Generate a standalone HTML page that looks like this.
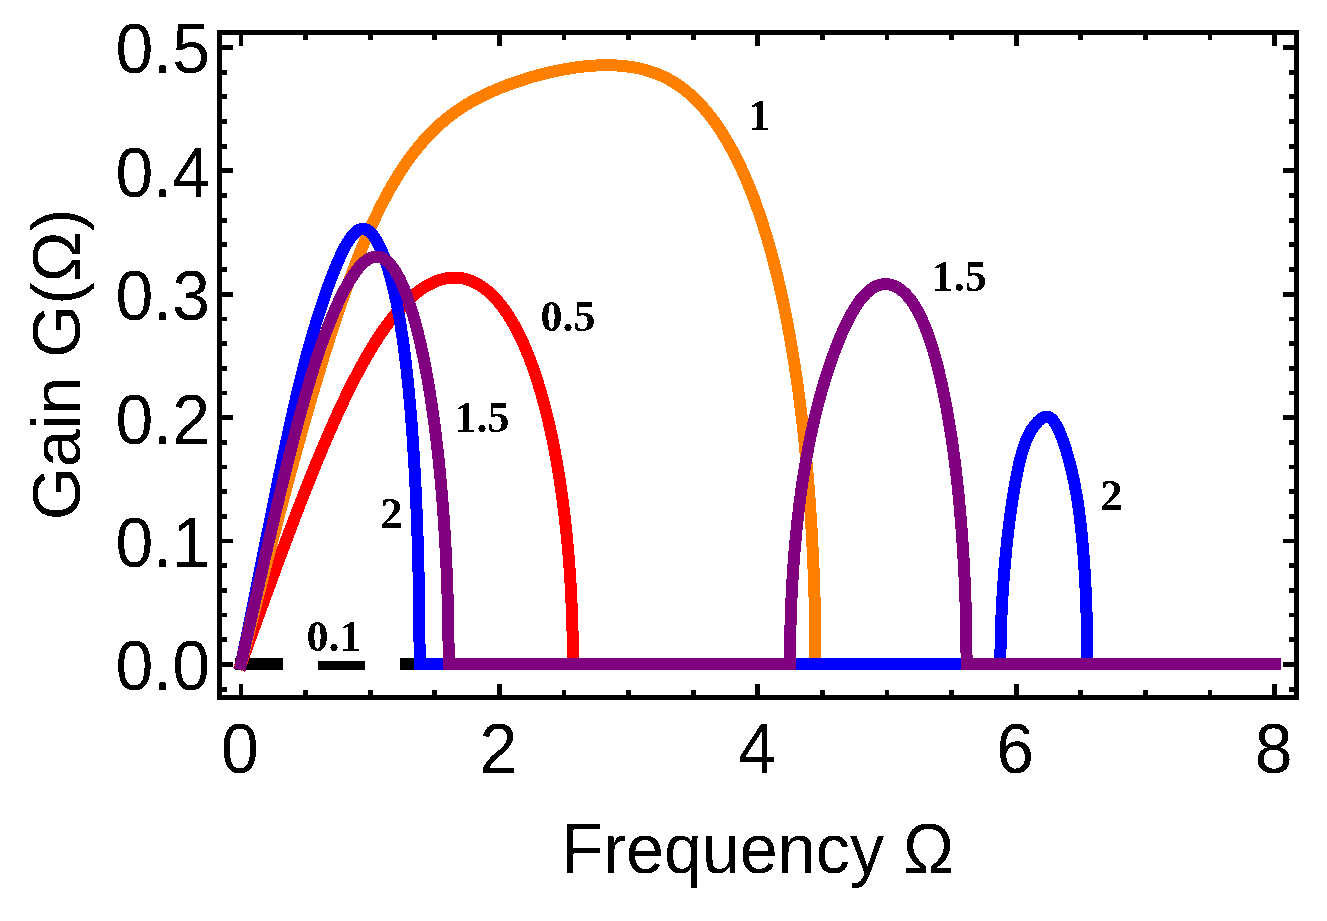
<!DOCTYPE html>
<html><head><meta charset="utf-8"><title>Gain vs Frequency</title>
<style>html,body{margin:0;padding:0;background:#fff;}body{width:1327px;height:921px;overflow:hidden;}svg{display:block;}</style></head><body>
<svg width="1327" height="921" viewBox="0 0 1327 921" shape-rendering="crispEdges">
<rect x="0" y="0" width="1327" height="921" fill="#fff"/>
<rect x="219.5" y="32.2" width="1077.0" height="665.3" fill="none" stroke="#000" stroke-width="4.8"/>
<path d="M241.0 697.5V684.2M241.0 32.2V45.5M305.6 697.5V689.7M305.6 32.2V40.0M370.2 697.5V689.7M370.2 32.2V40.0M434.8 697.5V689.7M434.8 32.2V40.0M499.4 697.5V684.2M499.4 32.2V45.5M564.0 697.5V689.7M564.0 32.2V40.0M628.6 697.5V689.7M628.6 32.2V40.0M693.2 697.5V689.7M693.2 32.2V40.0M757.8 697.5V684.2M757.8 32.2V45.5M822.4 697.5V689.7M822.4 32.2V40.0M887.0 697.5V689.7M887.0 32.2V40.0M951.6 697.5V689.7M951.6 32.2V40.0M1016.2 697.5V684.2M1016.2 32.2V45.5M1080.8 697.5V689.7M1080.8 32.2V40.0M1145.4 697.5V689.7M1145.4 32.2V40.0M1210.0 697.5V689.7M1210.0 32.2V40.0M1274.6 697.5V684.2M1274.6 32.2V45.5M219.5 689.1H227.3M1296.5 689.1H1288.7M219.5 664.4H232.8M1296.5 664.4H1283.2M219.5 639.7H227.3M1296.5 639.7H1288.7M219.5 615.0H227.3M1296.5 615.0H1288.7M219.5 590.4H227.3M1296.5 590.4H1288.7M219.5 565.7H227.3M1296.5 565.7H1288.7M219.5 541.0H232.8M1296.5 541.0H1283.2M219.5 516.3H227.3M1296.5 516.3H1288.7M219.5 491.6H227.3M1296.5 491.6H1288.7M219.5 467.0H227.3M1296.5 467.0H1288.7M219.5 442.3H227.3M1296.5 442.3H1288.7M219.5 417.6H232.8M1296.5 417.6H1283.2M219.5 392.9H227.3M1296.5 392.9H1288.7M219.5 368.2H227.3M1296.5 368.2H1288.7M219.5 343.6H227.3M1296.5 343.6H1288.7M219.5 318.9H227.3M1296.5 318.9H1288.7M219.5 294.2H232.8M1296.5 294.2H1283.2M219.5 269.5H227.3M1296.5 269.5H1288.7M219.5 244.8H227.3M1296.5 244.8H1288.7M219.5 220.2H227.3M1296.5 220.2H1288.7M219.5 195.5H227.3M1296.5 195.5H1288.7M219.5 170.8H232.8M1296.5 170.8H1283.2M219.5 146.1H227.3M1296.5 146.1H1288.7M219.5 121.4H227.3M1296.5 121.4H1288.7M219.5 96.8H227.3M1296.5 96.8H1288.7M219.5 72.1H227.3M1296.5 72.1H1288.7M219.5 47.4H232.8M1296.5 47.4H1283.2" stroke="#000" stroke-width="4.8" fill="none"/>
<path d="M241.0 664.0 H1274.6" stroke="#000" stroke-width="12" fill="none" stroke-linecap="square" stroke-dasharray="35.6 46.9"/>
<path d="M241.00 664.00 L241.87 661.59 L242.74 659.18 L243.61 656.77 L244.48 654.36 L245.35 651.95 L246.22 649.54 L247.09 647.14 L247.96 644.73 L248.83 642.32 L249.70 639.92 L250.57 637.51 L251.44 635.11 L252.31 632.71 L253.18 630.31 L254.05 627.91 L254.92 625.51 L255.79 623.11 L256.66 620.71 L257.53 618.32 L258.40 615.93 L259.27 613.53 L260.14 611.14 L261.01 608.75 L261.88 606.37 L262.74 603.98 L263.61 601.60 L264.48 599.22 L265.35 596.84 L266.22 594.46 L267.08 592.09 L267.95 589.71 L268.82 587.34 L269.69 584.98 L270.55 582.61 L271.42 580.25 L272.29 577.89 L273.15 575.53 L274.02 573.18 L274.89 570.83 L275.75 568.48 L276.62 566.13 L277.48 563.79 L278.35 561.46 L279.21 559.12 L280.08 556.79 L280.94 554.46 L281.80 552.14 L282.67 549.82 L283.53 547.51 L284.39 545.20 L285.26 542.89 L286.12 540.59 L286.98 538.29 L287.84 536.00 L288.70 533.71 L289.57 531.42 L290.43 529.15 L291.29 526.87 L292.15 524.60 L293.01 522.34 L293.87 520.08 L294.73 517.83 L295.58 515.59 L296.44 513.35 L297.30 511.11 L298.16 508.88 L299.02 506.66 L299.87 504.44 L300.73 502.23 L301.58 500.03 L302.44 497.84 L303.29 495.65 L304.15 493.46 L305.00 491.29 L305.86 489.12 L306.71 486.96 L307.56 484.81 L308.42 482.66 L309.27 480.52 L310.12 478.39 L310.97 476.27 L311.82 474.15 L312.67 472.05 L313.52 469.95 L314.37 467.86 L315.22 465.78 L316.07 463.71 L316.91 461.64 L317.76 459.59 L318.61 457.54 L319.45 455.50 L320.30 453.47 L321.14 451.45 L321.99 449.44 L322.83 447.44 L323.68 445.45 L324.52 443.46 L325.36 441.49 L326.20 439.53 L327.04 437.57 L327.88 435.63 L328.72 433.69 L329.56 431.77 L330.40 429.85 L331.24 427.95 L332.08 426.06 L332.91 424.17 L333.75 422.30 L334.58 420.43 L335.42 418.58 L336.25 416.74 L337.09 414.91 L337.92 413.09 L339.58 409.48 L341.24 405.91 L342.90 402.39 L344.56 398.92 L346.21 395.49 L347.86 392.10 L349.50 388.76 L351.15 385.47 L352.79 382.23 L354.43 379.03 L356.06 375.88 L357.69 372.78 L359.32 369.73 L360.94 366.73 L362.57 363.77 L364.18 360.87 L365.80 358.02 L367.41 355.22 L369.02 352.47 L370.62 349.77 L372.22 347.12 L373.82 344.53 L375.41 341.98 L377.00 339.49 L378.59 337.05 L380.17 334.67 L381.75 332.33 L383.32 330.05 L384.89 327.81 L386.46 325.63 L388.02 323.51 L389.58 321.43 L391.14 319.40 L392.69 317.43 L394.23 315.51 L395.78 313.63 L397.31 311.81 L398.85 310.04 L400.38 308.32 L401.90 306.65 L403.42 305.03 L404.94 303.46 L406.45 301.94 L407.96 300.47 L409.46 299.05 L410.95 297.67 L413.19 295.70 L415.42 293.84 L417.64 292.09 L419.84 290.44 L422.03 288.89 L424.22 287.45 L426.39 286.12 L428.55 284.88 L430.70 283.75 L432.83 282.71 L434.96 281.78 L437.07 280.94 L439.17 280.20 L441.26 279.55 L443.34 279.00 L445.40 278.54 L447.45 278.18 L449.49 277.90 L451.51 277.72 L453.53 277.63 L456.19 277.66 L458.83 277.84 L461.44 278.17 L464.03 278.67 L466.60 279.31 L469.14 280.11 L471.03 280.81 L472.90 281.59 L474.77 282.46 L476.61 283.41 L478.44 284.44 L480.26 285.55 L482.06 286.74 L483.85 288.01 L485.62 289.36 L487.38 290.79 L489.12 292.30 L490.85 293.88 L492.56 295.54 L494.25 297.28 L495.93 299.08 L497.60 300.97 L499.25 302.92 L500.88 304.95 L502.49 307.05 L504.09 309.22 L505.68 311.47 L507.25 313.78 L508.80 316.16 L510.33 318.61 L511.85 321.12 L513.35 323.70 L514.34 325.46 L515.32 327.25 L516.30 329.07 L517.27 330.92 L518.23 332.79 L519.18 334.69 L520.13 336.62 L521.07 338.58 L522.00 340.57 L522.92 342.59 L523.83 344.63 L524.74 346.70 L525.64 348.80 L526.53 350.92 L527.41 353.07 L528.29 355.25 L529.16 357.45 L530.02 359.68 L530.87 361.93 L531.71 364.21 L532.55 366.52 L533.38 368.85 L534.20 371.20 L535.01 373.58 L535.81 375.99 L536.61 378.41 L537.40 380.87 L538.18 383.34 L538.95 385.84 L539.71 388.36 L540.46 390.91 L541.21 393.48 L541.95 396.07 L542.68 398.68 L543.40 401.31 L544.11 403.97 L544.82 406.65 L545.51 409.35 L546.20 412.07 L546.88 414.81 L547.55 417.57 L548.22 420.35 L548.87 423.15 L549.52 425.97 L550.16 428.81 L550.78 431.67 L551.41 434.55 L552.02 437.45 L552.62 440.37 L553.22 443.30 L553.80 446.26 L554.38 449.23 L554.95 452.21 L555.51 455.22 L556.06 458.24 L556.60 461.28 L557.14 464.34 L557.66 467.41 L558.18 470.49 L558.69 473.60 L559.19 476.72 L559.68 479.85 L560.16 483.00 L560.64 486.16 L561.10 489.34 L561.56 492.53 L562.00 495.73 L562.44 498.95 L562.87 502.19 L563.29 505.43 L563.70 508.69 L564.10 511.96 L564.50 515.24 L564.88 518.53 L565.26 521.84 L565.63 525.16 L565.98 528.49 L566.33 531.82 L566.67 535.17 L567.00 538.53 L567.33 541.90 L567.64 545.28 L567.94 548.67 L568.24 552.07 L568.53 555.48 L568.80 558.89 L569.07 562.32 L569.33 565.75 L569.58 569.19 L569.82 572.64 L570.05 576.09 L570.28 579.55 L570.49 583.02 L570.70 586.50 L570.89 589.98 L571.08 593.46 L571.26 596.96 L571.42 600.45 L571.58 603.96 L571.73 607.46 L571.88 610.98 L572.01 614.49 L572.13 618.01 L572.25 621.54 L572.35 625.06 L572.45 628.59 L572.53 632.12 L572.61 635.66 L572.68 639.20 L572.74 642.74 L572.79 646.28 L572.83 649.82 L572.86 653.36 L572.88 656.91 L572.90 660.45 L572.90 664.00 L1274.60 664.00" stroke="#ff0000" stroke-width="12" fill="none" stroke-linecap="square" stroke-linejoin="miter" stroke-miterlimit="10"/>
<path d="M241.00 664.00 L242.51 658.00 L244.01 652.01 L245.52 646.02 L247.03 640.04 L248.53 634.08 L250.04 628.12 L251.54 622.17 L253.05 616.23 L254.56 610.30 L256.06 604.38 L257.57 598.47 L259.07 592.57 L260.58 586.68 L262.09 580.81 L263.59 574.94 L265.10 569.09 L266.60 563.25 L268.11 557.43 L269.61 551.61 L271.12 545.82 L272.62 540.03 L274.12 534.27 L275.63 528.52 L277.13 522.78 L278.63 517.06 L280.14 511.36 L281.64 505.68 L283.14 500.02 L284.64 494.38 L286.15 488.76 L287.65 483.16 L289.15 477.59 L290.65 472.03 L292.15 466.50 L293.65 461.00 L295.15 455.52 L296.65 450.07 L298.15 444.64 L299.65 439.24 L301.15 433.88 L302.65 428.54 L304.14 423.23 L305.64 417.96 L307.14 412.71 L308.63 407.51 L310.13 402.33 L311.62 397.19 L313.12 392.09 L314.61 387.02 L316.11 381.99 L317.60 377.00 L319.09 372.04 L320.58 367.13 L322.08 362.25 L323.57 357.41 L325.06 352.62 L326.55 347.86 L328.04 343.15 L329.53 338.48 L331.01 333.85 L332.50 329.27 L333.99 324.73 L335.47 320.24 L336.96 315.79 L338.45 311.39 L339.93 307.03 L341.41 302.72 L342.90 298.46 L344.38 294.25 L345.86 290.08 L347.34 285.97 L348.82 281.90 L350.30 277.88 L351.78 273.91 L353.26 269.99 L354.73 266.13 L356.21 262.31 L357.68 258.55 L359.16 254.84 L360.63 251.18 L362.11 247.57 L363.58 244.02 L365.05 240.52 L366.52 237.07 L367.99 233.67 L369.46 230.34 L370.93 227.05 L372.39 223.82 L373.86 220.64 L375.32 217.52 L376.79 214.45 L378.25 211.43 L379.71 208.46 L381.18 205.55 L382.64 202.68 L384.10 199.87 L385.55 197.11 L387.01 194.40 L388.47 191.74 L389.92 189.13 L391.38 186.57 L392.83 184.05 L394.28 181.59 L395.74 179.17 L397.19 176.80 L398.63 174.47 L400.08 172.19 L401.53 169.96 L402.98 167.76 L404.42 165.62 L405.86 163.51 L407.31 161.45 L408.75 159.43 L410.19 157.45 L411.63 155.51 L413.06 153.61 L414.50 151.76 L415.94 149.93 L417.37 148.15 L418.80 146.40 L420.24 144.69 L421.67 143.02 L423.10 141.38 L424.52 139.78 L425.95 138.20 L427.38 136.67 L428.80 135.16 L430.22 133.68 L431.65 132.24 L433.07 130.82 L435.90 128.08 L438.73 125.45 L441.56 122.93 L444.38 120.51 L447.20 118.20 L450.01 115.98 L452.81 113.85 L455.61 111.81 L458.40 109.86 L461.18 107.99 L463.96 106.19 L466.74 104.47 L469.50 102.82 L472.27 101.23 L475.02 99.71 L477.77 98.25 L480.51 96.84 L483.25 95.48 L485.97 94.17 L488.70 92.91 L491.41 91.69 L494.12 90.51 L496.82 89.36 L499.51 88.24 L502.20 87.16 L504.88 86.11 L507.55 85.09 L510.22 84.10 L512.88 83.14 L515.53 82.21 L518.17 81.30 L520.81 80.42 L523.43 79.57 L526.05 78.75 L528.66 77.95 L531.27 77.18 L533.86 76.43 L536.45 75.71 L539.03 75.01 L541.60 74.34 L544.17 73.69 L546.72 73.06 L549.27 72.46 L551.81 71.88 L554.34 71.32 L556.86 70.79 L559.37 70.28 L561.87 69.79 L564.37 69.33 L566.85 68.89 L569.33 68.47 L571.80 68.08 L574.26 67.71 L576.71 67.37 L579.15 67.05 L581.58 66.75 L584.00 66.48 L586.41 66.23 L588.81 66.02 L591.21 65.82 L593.59 65.65 L595.96 65.51 L598.33 65.40 L600.68 65.31 L603.03 65.25 L605.36 65.22 L607.69 65.22 L610.00 65.25 L612.30 65.31 L614.60 65.39 L616.88 65.51 L619.15 65.66 L621.42 65.83 L623.67 66.04 L625.91 66.29 L628.14 66.56 L630.36 66.87 L632.57 67.21 L634.77 67.59 L636.96 68.01 L639.14 68.46 L641.30 68.95 L643.46 69.48 L645.60 70.05 L647.74 70.66 L649.86 71.31 L651.97 72.01 L654.07 72.75 L656.16 73.53 L658.23 74.35 L660.30 75.23 L662.35 76.14 L664.39 77.11 L666.43 78.12 L668.44 79.18 L670.45 80.29 L672.45 81.45 L674.43 82.65 L676.40 83.91 L678.36 85.22 L680.31 86.58 L682.24 87.99 L684.17 89.45 L686.08 90.97 L687.98 92.54 L689.86 94.16 L691.74 95.84 L693.60 97.57 L695.45 99.35 L697.28 101.18 L699.11 103.07 L700.92 105.01 L702.72 107.00 L704.51 109.04 L706.28 111.13 L708.04 113.28 L709.79 115.47 L711.52 117.72 L713.24 120.02 L714.95 122.37 L716.65 124.77 L718.33 127.22 L720.00 129.72 L721.66 132.26 L723.30 134.86 L724.93 137.51 L726.55 140.21 L728.15 142.96 L729.74 145.76 L731.32 148.60 L732.88 151.50 L734.43 154.44 L735.97 157.43 L737.49 160.48 L739.00 163.57 L740.49 166.70 L741.97 169.89 L743.44 173.12 L744.90 176.40 L746.34 179.73 L747.76 183.11 L749.17 186.53 L750.57 190.00 L751.96 193.52 L753.33 197.08 L754.68 200.69 L756.02 204.35 L757.35 208.05 L758.66 211.80 L759.32 213.69 L759.96 215.60 L760.61 217.51 L761.25 219.44 L761.88 221.38 L762.52 223.33 L763.15 225.29 L763.77 227.26 L764.40 229.25 L765.02 231.24 L765.63 233.25 L766.24 235.27 L766.85 237.30 L767.46 239.34 L768.06 241.39 L768.66 243.46 L769.25 245.53 L769.84 247.62 L770.43 249.72 L771.01 251.83 L771.59 253.95 L772.16 256.08 L772.74 258.22 L773.30 260.37 L773.87 262.54 L774.43 264.71 L774.99 266.90 L775.54 269.09 L776.09 271.30 L776.64 273.52 L777.18 275.75 L777.72 277.99 L778.25 280.24 L778.78 282.50 L779.31 284.77 L779.84 287.05 L780.36 289.34 L780.87 291.64 L781.39 293.96 L781.90 296.28 L782.40 298.61 L782.90 300.96 L783.40 303.31 L783.90 305.68 L784.39 308.05 L784.87 310.44 L785.36 312.83 L785.84 315.23 L786.31 317.65 L786.78 320.07 L787.25 322.50 L787.72 324.95 L788.18 327.40 L788.63 329.86 L789.09 332.33 L789.54 334.82 L789.98 337.31 L790.42 339.81 L790.86 342.32 L791.29 344.83 L791.73 347.36 L792.15 349.90 L792.57 352.44 L792.99 355.00 L793.41 357.56 L793.82 360.13 L794.23 362.72 L794.63 365.30 L795.03 367.90 L795.43 370.51 L795.82 373.13 L796.21 375.75 L796.59 378.38 L796.98 381.02 L797.35 383.67 L797.73 386.33 L798.10 388.99 L798.46 391.66 L798.82 394.34 L799.18 397.03 L799.53 399.73 L799.89 402.43 L800.23 405.14 L800.57 407.86 L800.91 410.59 L801.25 413.32 L801.58 416.06 L801.91 418.81 L802.23 421.57 L802.55 424.33 L802.86 427.10 L803.18 429.88 L803.48 432.66 L803.79 435.45 L804.09 438.25 L804.39 441.05 L804.68 443.86 L804.97 446.68 L805.25 449.50 L805.53 452.33 L805.81 455.16 L806.08 458.01 L806.35 460.85 L806.62 463.71 L806.88 466.57 L807.13 469.43 L807.39 472.30 L807.64 475.18 L807.88 478.06 L808.13 480.95 L808.36 483.84 L808.60 486.74 L808.83 489.64 L809.05 492.55 L809.28 495.46 L809.50 498.38 L809.71 501.31 L809.92 504.23 L810.13 507.17 L810.33 510.10 L810.53 513.05 L810.72 515.99 L810.92 518.94 L811.10 521.90 L811.29 524.86 L811.46 527.82 L811.64 530.79 L811.81 533.76 L811.98 536.74 L812.14 539.72 L812.30 542.70 L812.46 545.68 L812.61 548.67 L812.76 551.67 L812.90 554.66 L813.04 557.66 L813.18 560.67 L813.31 563.67 L813.44 566.68 L813.56 569.69 L813.68 572.71 L813.80 575.73 L813.91 578.75 L814.02 581.77 L814.13 584.79 L814.23 587.82 L814.32 590.85 L814.42 593.88 L814.50 596.92 L814.59 599.95 L814.67 602.99 L814.75 606.03 L814.82 609.07 L814.89 612.11 L814.95 615.16 L815.02 618.20 L815.07 621.25 L815.13 624.30 L815.18 627.35 L815.22 630.40 L815.26 633.45 L815.30 636.50 L815.33 639.55 L815.36 642.61 L815.39 645.66 L815.41 648.72 L815.43 651.77 L815.44 654.83 L815.45 657.89 L815.46 660.94 L815.46 664.00 L1274.60 664.00" stroke="#ff8000" stroke-width="12" fill="none" stroke-linecap="square" stroke-linejoin="miter" stroke-miterlimit="10"/>
<path d="M241.00 664.00 L241.47 661.74 L241.94 659.48 L242.40 657.22 L242.87 654.95 L243.34 652.69 L243.81 650.42 L244.28 648.14 L244.75 645.87 L245.21 643.59 L245.68 641.31 L246.15 639.02 L246.62 636.74 L247.09 634.45 L247.55 632.16 L248.02 629.87 L248.49 627.57 L248.96 625.27 L249.43 622.98 L249.89 620.68 L250.36 618.37 L250.83 616.07 L251.30 613.76 L251.76 611.45 L252.23 609.15 L252.70 606.83 L253.17 604.52 L253.63 602.21 L254.10 599.89 L254.57 597.58 L255.03 595.26 L255.50 592.94 L255.97 590.62 L256.43 588.30 L256.90 585.98 L257.37 583.66 L257.83 581.34 L258.30 579.02 L258.76 576.70 L259.23 574.38 L259.70 572.05 L260.16 569.73 L260.63 567.41 L261.09 565.09 L261.56 562.76 L262.02 560.44 L262.49 558.12 L262.95 555.80 L263.42 553.48 L263.88 551.16 L264.35 548.85 L264.81 546.53 L265.27 544.21 L265.74 541.90 L266.20 539.59 L266.67 537.28 L267.13 534.97 L267.59 532.66 L268.05 530.36 L268.52 528.06 L268.98 525.76 L269.44 523.46 L269.90 521.16 L270.37 518.87 L270.83 516.58 L271.29 514.29 L271.75 512.01 L272.21 509.73 L272.67 507.45 L273.13 505.18 L273.59 502.91 L274.05 500.65 L274.51 498.38 L274.97 496.13 L275.43 493.87 L275.89 491.62 L276.35 489.38 L276.81 487.14 L277.27 484.91 L277.73 482.67 L278.19 480.45 L278.64 478.23 L279.10 476.02 L279.56 473.81 L280.02 471.60 L280.47 469.40 L280.93 467.21 L281.39 465.03 L281.84 462.85 L282.30 460.67 L282.75 458.51 L283.21 456.35 L283.66 454.19 L284.12 452.05 L284.57 449.91 L285.03 447.77 L285.48 445.65 L285.93 443.53 L286.39 441.42 L286.84 439.32 L287.29 437.22 L287.74 435.13 L288.20 433.06 L288.65 430.99 L289.10 428.92 L289.55 426.87 L290.00 424.83 L290.45 422.79 L290.90 420.76 L291.35 418.74 L291.80 416.74 L292.25 414.74 L292.69 412.75 L293.14 410.77 L293.59 408.80 L294.04 406.84 L294.48 404.89 L295.38 401.02 L296.27 397.19 L297.16 393.40 L298.05 389.66 L298.93 385.96 L299.82 382.31 L300.70 378.71 L301.58 375.15 L302.46 371.65 L303.34 368.19 L304.22 364.77 L305.09 361.41 L305.97 358.09 L306.84 354.82 L307.71 351.60 L308.58 348.42 L309.44 345.29 L310.31 342.20 L311.17 339.16 L312.03 336.17 L312.89 333.22 L313.74 330.31 L314.60 327.45 L315.45 324.63 L316.30 321.85 L317.15 319.11 L317.99 316.42 L318.84 313.76 L319.68 311.15 L320.52 308.57 L321.36 306.04 L322.19 303.54 L323.02 301.07 L323.86 298.65 L324.68 296.25 L325.51 293.90 L326.33 291.58 L327.16 289.29 L327.97 287.03 L328.79 284.81 L329.61 282.62 L330.42 280.45 L331.23 278.32 L332.03 276.22 L332.84 274.15 L333.64 272.11 L334.44 270.11 L335.24 268.14 L336.03 266.21 L336.82 264.32 L337.61 262.46 L338.79 259.75 L339.96 257.13 L341.13 254.61 L342.29 252.19 L343.44 249.87 L344.59 247.65 L345.73 245.54 L346.86 243.54 L347.99 241.66 L349.11 239.90 L350.60 237.74 L352.07 235.80 L353.53 234.08 L354.98 232.60 L356.77 231.09 L358.54 229.97 L360.65 229.13 L362.72 228.85 L364.76 229.11 L366.77 229.87 L368.75 231.11 L370.37 232.48 L371.97 234.15 L373.55 236.11 L374.80 237.86 L376.03 239.78 L377.25 241.87 L378.45 244.10 L379.64 246.49 L380.52 248.38 L381.40 250.34 L382.26 252.39 L383.11 254.51 L383.96 256.71 L384.80 258.98 L385.63 261.32 L386.45 263.74 L387.26 266.22 L388.06 268.78 L388.85 271.40 L389.63 274.10 L390.41 276.86 L391.17 279.69 L391.93 282.59 L392.43 284.57 L392.92 286.57 L393.41 288.61 L393.90 290.68 L394.38 292.79 L394.85 294.92 L395.33 297.09 L395.80 299.30 L396.26 301.53 L396.72 303.80 L397.18 306.11 L397.63 308.45 L398.08 310.82 L398.52 313.23 L398.96 315.67 L399.39 318.15 L399.82 320.66 L400.25 323.20 L400.67 325.78 L401.09 328.40 L401.50 331.05 L401.91 333.73 L402.31 336.45 L402.71 339.21 L403.11 342.00 L403.50 344.82 L403.88 347.68 L404.27 350.57 L404.64 353.49 L405.02 356.45 L405.38 359.45 L405.75 362.48 L406.11 365.54 L406.46 368.63 L406.81 371.76 L407.16 374.93 L407.50 378.12 L407.83 381.35 L408.16 384.61 L408.49 387.90 L408.81 391.23 L409.13 394.58 L409.44 397.97 L409.75 401.39 L410.06 404.84 L410.36 408.32 L410.65 411.83 L410.94 415.37 L411.23 418.94 L411.51 422.54 L411.78 426.17 L412.05 429.83 L412.32 433.52 L412.58 437.23 L412.84 440.97 L413.09 444.74 L413.34 448.53 L413.58 452.35 L413.82 456.20 L414.05 460.07 L414.28 463.97 L414.50 467.89 L414.72 471.84 L414.94 475.81 L415.15 479.80 L415.25 481.80 L415.35 483.81 L415.45 485.83 L415.55 487.85 L415.65 489.88 L415.75 491.91 L415.84 493.95 L415.94 495.99 L416.03 498.04 L416.12 500.09 L416.21 502.15 L416.30 504.22 L416.39 506.28 L416.48 508.36 L416.56 510.43 L416.65 512.52 L416.73 514.61 L416.82 516.70 L416.90 518.79 L416.98 520.90 L417.06 523.00 L417.13 525.11 L417.21 527.23 L417.28 529.35 L417.36 531.47 L417.43 533.60 L417.50 535.73 L417.57 537.86 L417.64 540.00 L417.71 542.15 L417.78 544.29 L417.84 546.44 L417.91 548.60 L417.97 550.75 L418.03 552.92 L418.09 555.08 L418.15 557.25 L418.21 559.42 L418.27 561.60 L418.32 563.77 L418.38 565.96 L418.43 568.14 L418.48 570.33 L418.53 572.52 L418.58 574.71 L418.63 576.91 L418.68 579.11 L418.72 581.31 L418.77 583.51 L418.81 585.72 L418.85 587.93 L418.90 590.14 L418.94 592.35 L418.97 594.57 L419.01 596.79 L419.05 599.01 L419.08 601.23 L419.12 603.45 L419.15 605.68 L419.18 607.91 L419.21 610.14 L419.24 612.37 L419.27 614.60 L419.29 616.84 L419.32 619.07 L419.34 621.31 L419.37 623.55 L419.39 625.79 L419.41 628.03 L419.43 630.27 L419.44 632.52 L419.46 634.76 L419.48 637.01 L419.49 639.25 L419.50 641.50 L419.51 643.75 L419.52 646.00 L419.53 648.25 L419.54 650.50 L419.55 652.75 L419.55 655.00 L419.56 657.25 L419.56 659.50 L419.56 661.75 L419.56 664.00 L1000.42 664.00 L1000.42 661.70 L1000.43 659.41 L1000.44 657.11 L1000.46 654.81 L1000.48 652.52 L1000.50 650.22 L1000.53 647.92 L1000.57 645.63 L1000.61 643.33 L1000.66 641.03 L1000.71 638.74 L1000.76 636.44 L1000.82 634.15 L1000.89 631.85 L1000.95 629.55 L1001.03 627.26 L1001.11 624.96 L1001.19 622.67 L1001.28 620.37 L1001.37 618.08 L1001.47 615.78 L1001.57 613.49 L1001.68 611.19 L1001.79 608.90 L1001.90 606.60 L1002.02 604.31 L1002.15 602.02 L1002.28 599.72 L1002.41 597.43 L1002.55 595.14 L1002.69 592.85 L1002.84 590.56 L1002.99 588.27 L1003.15 585.98 L1003.31 583.69 L1003.48 581.41 L1003.65 579.12 L1003.82 576.83 L1004.00 574.55 L1004.19 572.27 L1004.37 569.99 L1004.57 567.71 L1004.76 565.43 L1004.96 563.16 L1005.17 560.89 L1005.38 558.61 L1005.59 556.35 L1005.81 554.08 L1006.03 551.82 L1006.26 549.56 L1006.49 547.30 L1006.72 545.05 L1006.96 542.81 L1007.20 540.56 L1007.45 538.32 L1007.70 536.09 L1007.95 533.86 L1008.21 531.64 L1008.47 529.42 L1008.74 527.21 L1009.01 525.01 L1009.28 522.82 L1009.56 520.63 L1009.84 518.45 L1010.13 516.28 L1010.42 514.12 L1010.71 511.97 L1011.01 509.83 L1011.31 507.70 L1011.61 505.59 L1011.92 503.49 L1012.23 501.40 L1012.54 499.32 L1012.86 497.26 L1013.18 495.22 L1013.50 493.19 L1013.83 491.18 L1014.16 489.19 L1014.67 486.24 L1015.18 483.34 L1015.69 480.49 L1016.22 477.69 L1016.75 474.95 L1017.28 472.27 L1017.83 469.66 L1018.38 467.12 L1018.93 464.64 L1019.50 462.24 L1020.07 459.91 L1020.64 457.66 L1021.22 455.48 L1021.81 453.37 L1022.40 451.34 L1023.00 449.39 L1023.80 446.89 L1024.61 444.53 L1025.43 442.30 L1026.26 440.20 L1027.10 438.22 L1027.94 436.35 L1029.01 434.18 L1030.09 432.18 L1031.17 430.32 L1032.26 428.61 L1033.59 426.72 L1034.92 424.98 L1036.26 423.37 L1037.61 421.89 L1039.19 420.35 L1040.78 419.05 L1042.60 417.88 L1044.65 417.04 L1046.70 416.78 L1048.74 417.15 L1050.55 418.08 L1052.12 419.38 L1053.46 420.88 L1054.78 422.72 L1055.88 424.49 L1056.97 426.46 L1058.05 428.61 L1058.91 430.45 L1059.76 432.39 L1060.61 434.42 L1061.45 436.54 L1062.27 438.73 L1063.10 441.00 L1063.91 443.35 L1064.71 445.75 L1065.51 448.22 L1066.29 450.75 L1066.87 452.68 L1067.45 454.64 L1068.02 456.64 L1068.59 458.66 L1069.15 460.71 L1069.70 462.80 L1070.24 464.91 L1070.78 467.05 L1071.32 469.22 L1071.84 471.43 L1072.36 473.68 L1072.87 475.97 L1073.38 478.29 L1073.88 480.66 L1074.37 483.08 L1074.85 485.54 L1075.32 488.05 L1075.79 490.60 L1076.25 493.21 L1076.70 495.86 L1077.15 498.57 L1077.58 501.33 L1078.01 504.14 L1078.43 507.01 L1078.83 509.93 L1079.24 512.90 L1079.50 514.91 L1079.76 516.94 L1080.01 519.00 L1080.26 521.09 L1080.51 523.19 L1080.75 525.32 L1080.99 527.48 L1081.22 529.65 L1081.45 531.85 L1081.68 534.08 L1081.90 536.33 L1082.12 538.60 L1082.33 540.89 L1082.54 543.20 L1082.75 545.54 L1082.95 547.90 L1083.14 550.28 L1083.34 552.68 L1083.52 555.10 L1083.71 557.54 L1083.89 560.00 L1084.06 562.49 L1084.23 564.99 L1084.40 567.51 L1084.56 570.05 L1084.72 572.60 L1084.87 575.18 L1085.02 577.77 L1085.16 580.38 L1085.30 583.01 L1085.43 585.65 L1085.56 588.31 L1085.69 590.98 L1085.81 593.67 L1085.92 596.37 L1086.03 599.08 L1086.14 601.81 L1086.24 604.55 L1086.34 607.30 L1086.43 610.07 L1086.52 612.84 L1086.60 615.63 L1086.68 618.42 L1086.76 621.22 L1086.82 624.04 L1086.89 626.86 L1086.95 629.68 L1087.00 632.52 L1087.05 635.36 L1087.10 638.21 L1087.14 641.06 L1087.17 643.92 L1087.21 646.78 L1087.23 649.64 L1087.25 652.51 L1087.27 655.38 L1087.28 658.25 L1087.29 661.13 L1087.29 664.00 L1274.60 664.00" stroke="#0000ff" stroke-width="12" fill="none" stroke-linecap="square" stroke-linejoin="miter" stroke-miterlimit="10"/>
<path d="M241.00 664.00 L241.54 661.56 L242.09 659.13 L242.63 656.69 L243.18 654.26 L243.72 651.83 L244.27 649.40 L244.81 646.96 L245.36 644.53 L245.90 642.10 L246.44 639.68 L246.99 637.25 L247.53 634.82 L248.08 632.40 L248.62 629.97 L249.16 627.55 L249.71 625.13 L250.25 622.71 L250.80 620.29 L251.34 617.87 L251.88 615.46 L252.43 613.04 L252.97 610.63 L253.51 608.22 L254.06 605.81 L254.60 603.40 L255.14 601.00 L255.69 598.60 L256.23 596.20 L256.77 593.80 L257.32 591.40 L257.86 589.01 L258.40 586.61 L258.94 584.22 L259.49 581.84 L260.03 579.45 L260.57 577.07 L261.11 574.69 L261.66 572.32 L262.20 569.95 L262.74 567.58 L263.28 565.21 L263.82 562.85 L264.36 560.48 L264.90 558.13 L265.44 555.77 L265.98 553.42 L266.52 551.08 L267.06 548.74 L267.61 546.40 L268.14 544.06 L268.68 541.73 L269.22 539.40 L269.76 537.08 L270.30 534.76 L270.84 532.45 L271.38 530.14 L271.92 527.83 L272.46 525.53 L272.99 523.24 L273.53 520.95 L274.07 518.66 L274.61 516.38 L275.14 514.11 L275.68 511.83 L276.22 509.57 L276.76 507.31 L277.29 505.06 L277.83 502.81 L278.36 500.56 L278.90 498.33 L279.43 496.10 L279.97 493.87 L280.50 491.65 L281.04 489.44 L281.57 487.23 L282.11 485.04 L282.64 482.84 L283.17 480.66 L283.71 478.48 L284.24 476.30 L284.77 474.14 L285.30 471.98 L285.83 469.83 L286.37 467.68 L286.90 465.54 L287.43 463.42 L287.96 461.29 L288.49 459.18 L289.02 457.07 L289.55 454.97 L290.08 452.88 L290.61 450.80 L291.13 448.72 L291.66 446.66 L292.19 444.60 L292.72 442.55 L293.24 440.51 L293.77 438.48 L294.30 436.45 L294.82 434.44 L295.35 432.43 L295.87 430.44 L296.40 428.45 L296.92 426.47 L297.45 424.50 L297.97 422.55 L298.50 420.60 L299.02 418.66 L300.06 414.81 L301.11 411.00 L302.15 407.23 L303.19 403.50 L304.23 399.81 L305.26 396.17 L306.30 392.57 L307.33 389.02 L308.36 385.51 L309.39 382.05 L310.42 378.63 L311.44 375.26 L312.46 371.94 L313.49 368.67 L314.51 365.44 L315.52 362.26 L316.54 359.13 L317.55 356.05 L318.56 353.02 L319.57 350.03 L320.58 347.09 L321.58 344.21 L322.59 341.37 L323.59 338.57 L324.58 335.83 L325.58 333.13 L326.57 330.48 L327.56 327.88 L328.55 325.33 L329.54 322.82 L330.52 320.36 L331.50 317.95 L332.48 315.59 L333.46 313.27 L334.43 311.00 L335.40 308.77 L336.37 306.59 L337.34 304.46 L338.30 302.37 L339.26 300.33 L340.22 298.33 L341.17 296.37 L342.13 294.46 L343.08 292.60 L344.02 290.78 L344.97 289.00 L346.38 286.41 L347.78 283.92 L349.18 281.53 L350.57 279.25 L351.95 277.07 L353.33 274.99 L354.70 273.01 L356.06 271.15 L357.42 269.39 L358.77 267.74 L360.11 266.21 L361.89 264.33 L363.65 262.66 L365.40 261.19 L367.14 259.92 L368.86 258.86 L371.00 257.83 L373.11 257.13 L375.20 256.76 L377.26 256.72 L379.30 257.01 L381.32 257.63 L383.32 258.57 L385.29 259.83 L387.23 261.39 L388.77 262.85 L390.29 264.49 L391.80 266.31 L393.28 268.31 L394.76 270.48 L395.85 272.22 L396.93 274.05 L398.01 275.96 L399.07 277.97 L400.12 280.06 L401.17 282.24 L402.20 284.50 L403.23 286.84 L404.24 289.26 L405.25 291.75 L406.24 294.33 L407.22 296.97 L408.20 299.70 L409.16 302.49 L409.80 304.39 L410.43 306.32 L411.06 308.28 L411.68 310.27 L412.30 312.29 L412.91 314.34 L413.52 316.42 L414.12 318.53 L414.72 320.67 L415.31 322.83 L415.90 325.02 L416.49 327.23 L417.07 329.48 L417.64 331.75 L418.21 334.04 L418.78 336.37 L419.34 338.71 L419.89 341.08 L420.44 343.48 L420.99 345.90 L421.53 348.35 L422.06 350.82 L422.59 353.31 L423.12 355.82 L423.64 358.36 L424.15 360.92 L424.66 363.51 L425.17 366.11 L425.67 368.74 L426.16 371.39 L426.65 374.06 L427.14 376.75 L427.62 379.46 L428.09 382.20 L428.56 384.95 L429.03 387.72 L429.49 390.51 L429.94 393.32 L430.39 396.15 L430.83 399.00 L431.27 401.87 L431.70 404.75 L432.13 407.66 L432.55 410.58 L432.97 413.51 L433.38 416.47 L433.79 419.44 L434.19 422.43 L434.59 425.44 L434.98 428.46 L435.37 431.49 L435.75 434.55 L436.12 437.61 L436.49 440.70 L436.85 443.80 L437.21 446.91 L437.57 450.04 L437.91 453.18 L438.26 456.33 L438.59 459.50 L438.92 462.68 L439.25 465.88 L439.57 469.08 L439.89 472.31 L440.20 475.54 L440.50 478.78 L440.80 482.04 L441.09 485.31 L441.38 488.59 L441.66 491.88 L441.94 495.18 L442.21 498.50 L442.48 501.82 L442.74 505.16 L442.99 508.50 L443.24 511.85 L443.48 515.22 L443.72 518.59 L443.95 521.97 L444.18 525.36 L444.40 528.76 L444.62 532.17 L444.83 535.59 L445.03 539.01 L445.23 542.45 L445.42 545.89 L445.61 549.34 L445.79 552.79 L445.97 556.25 L446.14 559.72 L446.31 563.19 L446.46 566.68 L446.62 570.16 L446.77 573.65 L446.91 577.15 L447.05 580.66 L447.18 584.17 L447.30 587.68 L447.42 591.20 L447.54 594.72 L447.64 598.25 L447.75 601.78 L447.84 605.31 L447.93 608.85 L448.02 612.40 L448.10 615.94 L448.17 619.49 L448.24 623.04 L448.31 626.59 L448.36 630.15 L448.41 633.71 L448.46 637.27 L448.50 640.83 L448.53 644.39 L448.56 647.95 L448.59 651.52 L448.60 655.08 L448.61 658.65 L448.62 662.22 L448.62 664.00 L789.98 664.00 L789.98 660.27 L790.00 656.55 L790.02 652.83 L790.05 649.10 L790.10 645.38 L790.15 641.66 L790.21 637.95 L790.29 634.23 L790.37 630.52 L790.46 626.82 L790.56 623.12 L790.67 619.42 L790.80 615.73 L790.93 612.04 L791.07 608.36 L791.22 604.69 L791.38 601.02 L791.54 597.36 L791.72 593.71 L791.91 590.07 L792.11 586.43 L792.32 582.81 L792.53 579.19 L792.76 575.58 L792.99 571.99 L793.24 568.40 L793.49 564.82 L793.76 561.26 L794.03 557.71 L794.31 554.17 L794.60 550.64 L794.90 547.13 L795.21 543.63 L795.53 540.14 L795.86 536.67 L796.20 533.21 L796.54 529.77 L796.90 526.34 L797.26 522.93 L797.63 519.53 L798.01 516.15 L798.41 512.79 L798.80 509.44 L799.21 506.11 L799.63 502.80 L800.05 499.51 L800.49 496.23 L800.93 492.98 L801.38 489.74 L801.84 486.52 L802.31 483.32 L802.79 480.14 L803.27 476.98 L803.76 473.84 L804.26 470.72 L804.77 467.62 L805.29 464.54 L805.82 461.48 L806.35 458.45 L806.89 455.43 L807.44 452.44 L808.00 449.46 L808.56 446.51 L809.13 443.58 L809.71 440.67 L810.30 437.79 L810.89 434.92 L811.50 432.08 L812.11 429.26 L812.72 426.46 L813.35 423.69 L813.98 420.93 L814.62 418.20 L815.26 415.49 L815.91 412.81 L816.57 410.14 L817.24 407.50 L817.91 404.87 L818.59 402.27 L819.28 399.69 L819.97 397.14 L820.67 394.60 L821.37 392.08 L822.08 389.59 L822.80 387.11 L823.52 384.66 L824.25 382.23 L824.99 379.81 L825.73 377.42 L826.48 375.04 L827.23 372.68 L827.99 370.35 L828.75 368.03 L829.52 365.74 L830.30 363.46 L831.08 361.21 L831.86 358.97 L832.65 356.76 L833.45 354.57 L834.25 352.40 L835.05 350.25 L835.86 348.13 L836.68 346.03 L837.50 343.95 L838.32 341.90 L839.15 339.87 L839.98 337.87 L840.82 335.89 L841.66 333.94 L842.50 332.02 L843.35 330.12 L844.20 328.25 L845.06 326.42 L845.92 324.61 L847.22 321.95 L848.52 319.36 L849.83 316.85 L851.15 314.42 L852.48 312.06 L853.81 309.78 L855.15 307.59 L856.49 305.49 L857.84 303.48 L859.19 301.56 L860.55 299.74 L861.91 298.03 L863.28 296.41 L864.65 294.89 L866.48 293.03 L868.32 291.35 L870.16 289.84 L872.01 288.52 L873.86 287.37 L875.71 286.39 L877.56 285.59 L879.87 284.83 L882.19 284.34 L884.50 284.11 L886.81 284.14 L889.11 284.42 L891.40 284.96 L893.68 285.74 L895.96 286.76 L897.77 287.75 L899.57 288.90 L901.36 290.20 L903.15 291.68 L904.92 293.31 L906.68 295.12 L908.42 297.10 L909.72 298.70 L911.02 300.40 L912.30 302.20 L913.58 304.10 L914.85 306.11 L916.11 308.21 L917.36 310.42 L918.60 312.73 L919.83 315.15 L921.05 317.67 L922.26 320.29 L923.46 323.02 L924.25 324.90 L925.04 326.82 L925.82 328.79 L926.60 330.80 L927.37 332.86 L928.14 334.97 L928.90 337.12 L929.65 339.31 L930.40 341.55 L931.15 343.84 L931.89 346.17 L932.62 348.55 L933.35 350.96 L934.07 353.43 L934.78 355.93 L935.49 358.47 L936.19 361.06 L936.89 363.69 L937.58 366.36 L938.26 369.07 L938.93 371.81 L939.60 374.60 L940.27 377.42 L940.92 380.29 L941.57 383.19 L942.21 386.12 L942.85 389.09 L943.47 392.10 L944.09 395.15 L944.71 398.22 L945.31 401.34 L945.91 404.48 L946.50 407.66 L947.09 410.87 L947.66 414.12 L948.23 417.39 L948.79 420.70 L949.34 424.04 L949.89 427.40 L950.43 430.80 L950.96 434.23 L951.48 437.68 L951.99 441.16 L952.50 444.67 L952.99 448.21 L953.48 451.78 L953.96 455.37 L954.43 458.99 L954.90 462.63 L955.35 466.29 L955.80 469.99 L956.24 473.70 L956.67 477.44 L957.09 481.20 L957.50 484.98 L957.90 488.79 L958.30 492.62 L958.69 496.46 L959.06 500.33 L959.43 504.22 L959.79 508.13 L960.14 512.05 L960.48 516.00 L960.81 519.96 L961.14 523.94 L961.30 525.94 L961.45 527.94 L961.61 529.95 L961.76 531.95 L961.91 533.97 L962.05 535.98 L962.20 538.01 L962.34 540.03 L962.48 542.06 L962.62 544.09 L962.75 546.13 L962.88 548.17 L963.02 550.21 L963.14 552.26 L963.27 554.31 L963.39 556.36 L963.51 558.41 L963.63 560.47 L963.75 562.54 L963.86 564.60 L963.98 566.67 L964.08 568.74 L964.19 570.82 L964.30 572.90 L964.40 574.98 L964.50 577.06 L964.60 579.14 L964.69 581.23 L964.78 583.32 L964.88 585.42 L964.96 587.51 L965.05 589.61 L965.13 591.71 L965.21 593.81 L965.29 595.92 L965.37 598.02 L965.44 600.13 L965.51 602.24 L965.58 604.35 L965.65 606.47 L965.71 608.59 L965.77 610.70 L965.83 612.82 L965.89 614.94 L965.95 617.06 L966.00 619.19 L966.05 621.31 L966.09 623.44 L966.14 625.57 L966.18 627.70 L966.22 629.83 L966.26 631.96 L966.29 634.09 L966.33 636.22 L966.36 638.35 L966.39 640.49 L966.41 642.62 L966.43 644.76 L966.45 646.90 L966.47 649.03 L966.49 651.17 L966.50 653.31 L966.51 655.45 L966.52 657.58 L966.53 659.72 L966.53 661.86 L966.53 664.00 L1274.60 664.00" stroke="#800080" stroke-width="12" fill="none" stroke-linecap="square" stroke-linejoin="miter" stroke-miterlimit="10"/>
<rect x="300" y="611" width="68" height="50" fill="#fff"/>
<defs><filter id="bin" x="0" y="0" width="1327" height="921" filterUnits="userSpaceOnUse"><feComponentTransfer><feFuncA type="discrete" tableValues="0 1"/></feComponentTransfer></filter></defs><g filter="url(#bin)">
<text x="334" y="651" font-family="Liberation Serif" font-weight="bold" font-size="44" text-anchor="middle">0.1</text>
<text x="568" y="331" font-family="Liberation Serif" font-weight="bold" font-size="44" text-anchor="middle">0.5</text>
<text x="759" y="130" font-family="Liberation Serif" font-weight="bold" font-size="44" text-anchor="middle">1</text>
<text x="482" y="432" font-family="Liberation Serif" font-weight="bold" font-size="44" text-anchor="middle">1.5</text>
<text x="391.5" y="528" font-family="Liberation Serif" font-weight="bold" font-size="44" text-anchor="middle">2</text>
<text x="959.2" y="291" font-family="Liberation Serif" font-weight="bold" font-size="44" text-anchor="middle">1.5</text>
<text x="1111.5" y="510" font-family="Liberation Serif" font-weight="bold" font-size="44" text-anchor="middle">2</text>
<text transform="translate(210,690.4) scale(1,1.045)" font-family="Liberation Sans" font-size="68" text-anchor="end">0.0</text>
<text transform="translate(210,567.0) scale(1,1.045)" font-family="Liberation Sans" font-size="68" text-anchor="end">0.1</text>
<text transform="translate(210,443.6) scale(1,1.045)" font-family="Liberation Sans" font-size="68" text-anchor="end">0.2</text>
<text transform="translate(210,320.2) scale(1,1.045)" font-family="Liberation Sans" font-size="68" text-anchor="end">0.3</text>
<text transform="translate(210,196.8) scale(1,1.045)" font-family="Liberation Sans" font-size="68" text-anchor="end">0.4</text>
<text transform="translate(210,73.4) scale(1,1.045)" font-family="Liberation Sans" font-size="68" text-anchor="end">0.5</text>
<text transform="translate(240.0,773.1) scale(1,1.045)" font-family="Liberation Sans" font-size="68" text-anchor="middle">0</text>
<text transform="translate(498.4,773.1) scale(1,1.045)" font-family="Liberation Sans" font-size="68" text-anchor="middle">2</text>
<text transform="translate(756.8,773.1) scale(1,1.045)" font-family="Liberation Sans" font-size="68" text-anchor="middle">4</text>
<text transform="translate(1015.2,773.1) scale(1,1.045)" font-family="Liberation Sans" font-size="68" text-anchor="middle">6</text>
<text transform="translate(1273.6,773.1) scale(1,1.045)" font-family="Liberation Sans" font-size="68" text-anchor="middle">8</text>
<text transform="translate(757.8,873.2) scale(1,1.03)" font-family="Liberation Sans" font-size="68.3" text-anchor="middle">Frequency Ω</text>
<text transform="translate(80,364.5) rotate(-90)" x="0" y="0" font-family="Liberation Sans" font-size="68" text-anchor="middle">Gain G(Ω)</text>
</g>
</svg>
</body></html>
